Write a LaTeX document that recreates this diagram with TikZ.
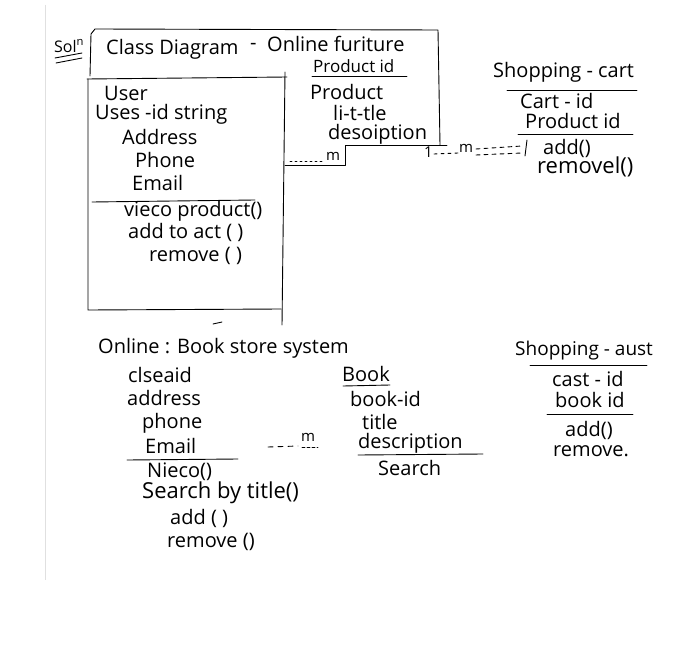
\documentclass[tikz,border=0pt]{standalone}
\usepackage{fontspec}
\setmainfont{Open Sans}
\begin{document}
\begin{tikzpicture}[x=1pt,y=-1pt,
  hw/.style={anchor=west, inner sep=0pt, font=\fontsize{20}{22}\selectfont},
  fs/.style={font=\fontsize{#1}{#1}\selectfont},
  ink/.style={line width=0.9pt, line cap=round, line join=round},
  dsh/.style={ink, dash pattern=on 4pt off 4pt}]
\useasboundingbox (0,0) rectangle (700,660);
\fill[white] (0,0) rectangle (700,660);
\draw[black!12, line width=0.5pt] (45,5) -- (45,580);

% ---------- Solution mark
\node[hw, fs=16] (sol) at (54,46) {Sol\textsuperscript{n}};
\draw[ink] (55,58) -- (82,53);
\draw[ink] (56,63) -- (82,58);

% ---------- outer frame and product box
\draw[ink] (90,76) -- (91,34) -- (95,29) -- (438,30) -- (440,145);
\draw[ink] (447,145) -- (345,145) -- (345,165) -- (285,165);
\node[hw] (title) at (106,49) {Class Diagram};
\node[hw] (tdash) at (250,46) {-};
\node[hw] (tonline) at (267,44) {Online furiture};
\node[hw, fs=17] (pid) at (313,66) {Product id};
\draw[ink] (312,76) -- (407,76);
\node[hw] (prod) at (310,92) {Product};
\node[hw] (little) at (333,113) {li-t-tle};
\node[hw] (desc) at (328,134) {desoiption};
\coordinate (pm1) at (290,161);
\coordinate (pm2) at (322,161);
\draw[ink, dash pattern=on 2pt off 3pt] (pm1) -- (pm2);
\node[hw, fs=15] (pmm) at (326,156) {m};

% ---------- User box
\draw[ink] (87,79) -- (287,77);
\draw[ink] (285,72) -- (282,325);
\draw[ink] (88,79) -- (88,310) -- (281,309);
\node[hw] (user) at (104,93) {User};
\node[hw] (uid) at (95,114) {Uses -id string};
\node[hw] (uaddr) at (122,137) {Address};
\node[hw] (uphone) at (135,160) {Phone};
\node[hw] (uemail) at (132,183) {Email};
\draw[ink] (92,202) -- (255,200);
\node[hw] (uview) at (124,211) {vieco product()};
\node[hw] (uadd) at (128,232) {add to act ( )};
\node[hw] (urem) at (149,256) {remove ( )};
\draw[ink] (213,324) -- (222,322);

% ---------- association to shopping cart
\node[hw, fs=15] (one) at (424,152) {1};
\coordinate (a1) at (434,154);
\coordinate (a2) at (458,153);
\draw[dsh, dash pattern=on 3pt off 4pt] (a1) -- (a2);
\node[hw, fs=15] (am) at (459,148) {m};
\coordinate (a3) at (476,149);
\coordinate (a4) at (522,146);
\coordinate (a5) at (476,155);
\coordinate (a6) at (522,153);
\draw[dsh] (a3) -- (a4);
\draw[dsh] (a5) -- (a6);
\coordinate (a7) at (527,140);
\coordinate (a8) at (525,156);
\draw[ink] (a7) -- (a8);

% ---------- Shopping cart
\node[hw] (sc) at (493,72) {Shopping - cart};
\draw[ink] (507,90) -- (637,90);
\node[hw] (scid) at (520,101) {Cart - id};
\node[hw] (scpid) at (525,121) {Product id};
\draw[ink] (518,134) -- (633,134);
\node[hw] (scadd) at (543,148) {add()};
\node[hw, fs=22] (screm) at (537,167) {removel()};

% ---------- Book store: customer
\node[hw] (bs) at (98,348) {Online : Book store system};
\node[hw] (cid) at (128,375) {clseaid};
\node[hw] (caddr) at (127,398) {address};
\node[hw] (cphone) at (142,423) {phone};
\node[hw] (cemail) at (145,446) {Email};
\draw[ink] (127,460) -- (238,459);
\node[hw] (cview) at (147,472) {Nieco()};
\node[hw, fs=22] (csearch) at (142,493) {Search by title()};
\node[hw] (cadd) at (170,518) {add ( )};
\node[hw] (crem) at (167,542) {remove ()};

% ---------- association customer - book
\coordinate (b1) at (268,447);
\coordinate (b2) at (298,446);
\draw[dsh, dash pattern=on 5pt off 5pt] (b1) -- (b2);
\node[hw, fs=15] (bm) at (301,437) {m};
\draw[ink, dash pattern=on 3pt off 2pt] (302,447) -- (318,447);

% ---------- Book
\node[hw] (book) at (342,374) {Book};
\draw[ink] (343,386) -- (390,385);
\node[hw] (bid) at (350,399) {book-id};
\node[hw] (btitle) at (362,422) {title};
\node[hw] (bdesc) at (358,443) {description};
\draw[ink] (358,455) -- (483,454);
\node[hw] (bsearch) at (378,468) {Search};

% ---------- Shopping cart (book)
\node[hw, fs=19] (sc2) at (515,351) {Shopping - aust};
\draw[ink] (530,365) -- (647,365);
\node[hw] (sc2id) at (552,379) {cast - id};
\node[hw] (sc2bid) at (555,400) {book id};
\draw[ink] (547,414) -- (633,414);
\node[hw] (sc2add) at (565,430) {add()};
\node[hw] (sc2rem) at (553,451) {remove.};
\end{tikzpicture}
\end{document}
